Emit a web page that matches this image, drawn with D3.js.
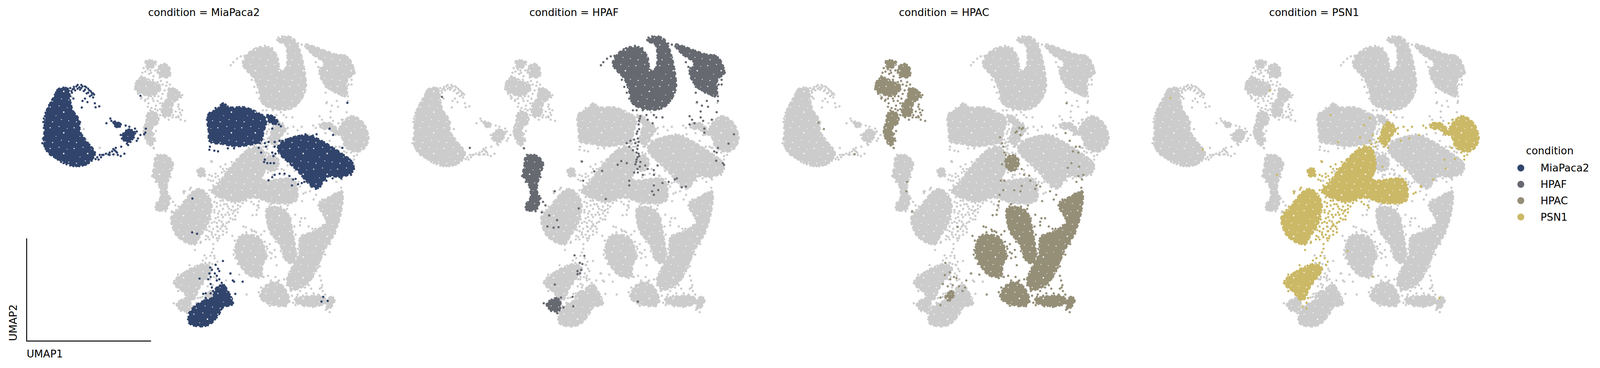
<!DOCTYPE html>
<html>
<head>
<meta charset="utf-8">
<style>
  html, body { margin: 0; background: #fff; overflow: hidden; }
  svg { display: block; width: 100vw; height: 100vh; }
  text { font-family: "DejaVu Sans", sans-serif; font-size: 26.7px; fill: #000; }
</style>
<script src="https://cdn.jsdelivr.net/npm/d3@7"></script>
</head>
<body>
<!-- the window can come out narrower than 4142, so the drawing is fitted to it -->
<svg id="chart" viewBox="0 0 4142 942" preserveAspectRatio="none"></svg>
<script>
// Cells are flat x,y lists. Where cells overlap too much to pick out one by one,
// the region they cover is kept as an outline ("areas") instead.
var conditions = ['MiaPaca2', 'HPAF', 'HPAC', 'PSN1']
var colors = ['#31446b', '#666970', '#958f78', '#cbb967']

var miaAreas = [
  [240,378,275,378,285,430,295,470,320,510,325,560,350,600,385,650,380,670,340,703,290,703,240,680,195,650,178,610,180,570,182,520,192,465,215,420],
  [850,482,880,467,905,442,930,457,990,457,1040,477,1080,510,1070,560,1060,600,1030,613,960,623,900,613,852,603,847,560,842,510],
  [1085,492,1105,495,1128,522,1110,528,1090,515],
  [1130,622,1170,592,1240,577,1290,592,1340,622,1390,657,1430,692,1433,728,1390,753,1330,753,1288,802,1250,778,1210,730,1170,690,1132,650],
  [790,1305,830,1280,860,1270,880,1225,905,1215,935,1260,945,1295,905,1310,885,1345,845,1385,790,1388,765,1372,772,1330],
  [503,565,525,552,548,565,540,590,515,605,497,590],
  [462,518,490,530,482,543,462,532]
]
var miaCells = [285,375,295,380,310,368,322,372,335,368,350,372,362,385,372,395,382,403,378,415,365,410,352,398,340,388,325,382,305,385,292,395,285,410,298,420,285,440,335,430,355,435,332,458,388,457,403,453,385,440,345,420,
  300,370,315,362,330,362,345,368,358,378,368,388,378,398,372,405,358,395,345,382,330,375,315,378,300,378,290,388,420,660,440,658,455,645,465,640,478,660,460,658,470,645,445,660,410,670,400,680,
  200,450,190,470,182,495,176,520,178,545,175,590,190,635,205,655,225,672,248,690,270,700,298,708,322,708,348,702,372,685,388,678,215,425,225,405,232,385,
  205,440,195,462,185,480,178,505,182,530,180,570,172,610,182,625,198,645,215,660,235,680,258,695,285,705,310,708,335,705,360,695,300,480,312,505,325,520,322,545,338,600,352,610,370,630,385,650,395,670,405,660,415,660,430,655,445,650,460,635,470,630,475,650,490,665,505,655,492,625,520,618,
  448,505,452,515,462,520,475,525,490,530,480,540,470,530,432,525,510,535,525,540,548,548,555,560,570,575,585,572,590,565,592,548,560,590,555,600,530,605,515,612,495,590,490,575,
  845,490,840,510,850,525,875,460,885,470,905,440,915,445,925,460,1065,490,1085,490,1100,492,1115,500,1125,515,1132,530,1110,525,1095,510,1120,528,1105,548,1140,538,852,625,850,638,870,642,885,645,925,632,950,632,1055,610,1075,610,1090,605,1050,630,1060,650,1080,625,1115,605,1115,625,1105,650,1118,655,1075,680,1085,695,1098,695,1112,695,1072,690,1110,665,
  1135,600,1145,600,1160,595,1130,630,1140,650,1160,665,1185,590,1210,580,1240,572,1270,578,1285,572,1338,548,1352,575,1390,630,1420,680,1437,720,1425,745,1385,760,1350,760,1325,770,1300,795,1282,805,1265,795,1235,775,1225,780,1210,785,1185,790,1200,762,1190,765,1175,750,1155,740,1135,740,1115,745,1105,755,1090,768,
  853,1140,860,1150,850,1165,875,1128,905,1112,885,1145,890,1155,872,1165,880,1175,855,1180,845,1190,880,1195,890,1190,900,1205,910,1215,895,1220,885,1225,860,1225,855,1210,865,1240,855,1250,835,1250,825,1252,835,1270,810,1187,935,1165,945,1195,950,1200,985,1200,955,1252,925,1245,935,1265,945,1290,940,1280,768,1332,770,1375,
  570,408,1410,438,781,846,780,990,800,996,1312,1265,1305,1285,1330,1282]

var hpafAreas = [
  [985,270,1030,210,1095,205,1125,240,1138,300,1160,290,1158,190,1125,175,1160,155,1190,165,1215,210,1240,330,1238,390,1195,455,1145,468,1070,445,1055,400,1035,340],
  [1237,190,1357,230,1412,245,1437,310,1410,340,1405,410,1367,395,1327,370,1297,310,1317,270,1267,230],
  [632,670,667,660,702,695,687,750,677,810,687,850,677,890,637,895,632,875,652,840,642,780,622,750,627,700],
  [717,1295,757,1270,772,1285,767,1325,732,1320]
]
var hpafCells = [937,278,947,265,962,250,977,240,992,238,1022,340,1032,370,1042,395,1052,420,1067,440,1067,470,1082,470,1107,470,1122,490,1152,490,1162,500,1187,500,1147,525,1127,510,
  1040,205,1055,200,1075,195,1090,200,1105,205,1115,225,1130,160,1125,170,1145,155,1175,158,1195,170,1210,185,1225,190,1250,205,1270,210,1290,225,1310,232,1340,235,1375,240,1405,245,1420,255,1432,280,1437,300,1040,350,1030,325,1005,290,995,280,1015,225,1000,260,1240,340,1243,365,1225,420,1205,440,1170,462,1130,462,1100,455,1075,445,1060,430,1300,290,1310,330,1320,350,1340,380,1360,395,1385,405,1395,380,1415,360,1425,325,1440,310,1330,260,1315,275,1380,395,
  1097,495,1092,515,1092,550,1082,570,1087,590,1077,610,1067,640,1087,620,1082,650,1092,665,1082,680,1097,690,1077,700,1072,735,1087,735,1117,705,1127,720,1152,725,1167,705,1152,745,1107,745,1052,625,1042,610,1057,600,1072,595,1095,505,1090,530,1085,560,1090,605,1085,635,1090,655,1085,670,1080,690,1095,710,1085,720,
  1322,370,1322,395,1327,435,1347,450,1342,475,1367,430,1372,455,1412,410,1412,430,1427,340,1427,360,1297,495,1307,510,1317,525,1297,530,1342,500,1352,515,1387,510,1357,548,1357,565,1407,478,1282,265,1292,285,1297,300,1397,235,1435,315,
  1477,572,1455,612,1412,630,1397,645,1407,650,1405,685,1432,695,1437,702,860,688,910,730,942,728,865,770,1005,702,1020,686,1042,695,1052,770,1052,790,1145,815,1152,830,1152,790,1170,810,1187,780,1212,775,1237,765,1245,760,1265,798,1282,795,957,848,847,888,750,815,292,413,405,630,625,632,
  692,845,702,860,712,875,682,855,672,900,697,905,727,918,759,938,720,965,745,970,765,968,637,660,667,662,702,695,692,755,617,750,632,775,687,835,637,895,647,898,
  830,1088,870,1090,852,1120,862,1125,857,1150,842,1155,842,1168,852,1165,750,1212,822,1265,825,1305,1087,1285,705,1292,718,1300,735,1325,775,1268,785,1310,760,1335]

var hpacAreas = [
  [593,258,633,265,623,285,598,290],
  [643,285,668,272,688,290,688,325,658,328,641,305],
  [553,350,578,330,613,345,653,370,638,395,613,410,578,400,553,385],
  [688,375,718,385,731,410,703,440,693,490,663,495,658,450,678,420],
  [603,480,633,480,643,520,618,545,623,610,608,620,583,560,593,520],
  [1078,680,1108,660,1133,690,1108,730,1083,715],
  [955,1060,975,1010,1010,1000,1050,1010,1075,1060,1080,1100,1065,1130,1060,1175,1015,1175,975,1130],
  [1085,890,1130,885,1165,905,1190,1000,1200,1095,1190,1120,1165,1115,1135,1040,1095,985],
  [1295,875,1365,825,1388,815,1385,900,1355,1000,1320,1060,1295,1120,1250,1205,1185,1235,1165,1195,1190,1130,1215,1080,1220,1010,1275,985,1325,945],
  [1063,1240,1098,1205,1138,1210,1173,1270,1163,1300,1093,1295,1058,1270],
  [1198,1275,1313,1265,1323,1290,1273,1305,1203,1290],
  [1328,1280,1343,1265,1358,1275,1343,1310,1328,1315],
  [833,1265,858,1240,868,1255,848,1282]
]
var hpacCells = [583,290,578,310,573,325,613,310,623,325,653,345,678,350,623,365,628,410,643,410,623,430,633,450,573,420,588,430,603,440,723,455,731,480,723,495,733,510,751,515,703,490,713,475,728,465,633,558,623,630,
  600,295,590,305,575,335,560,345,550,365,548,380,560,400,575,415,590,425,600,420,620,420,640,430,650,440,660,440,655,420,660,400,668,385,645,380,640,350,660,360,675,365,690,360,610,300,605,315,620,340,635,360,648,330,640,310,630,300,600,455,615,460,640,470,650,465,670,500,685,510,700,500,715,500,725,500,735,490,740,470,725,445,720,425,730,395,740,405,735,415,650,490,640,500,590,590,585,545,625,570,628,590,630,600,600,500,595,495,610,470,630,465,
  1133,545,1143,550,1123,560,1138,575,1148,545,1118,565,1055,585,1063,610,1068,625,1073,650,1078,660,1063,700,1143,720,1153,745,1173,748,1178,770,1143,792,1203,790,1218,795,1198,805,1138,815,1113,810,1073,770,1058,770,1068,810,1053,830,1051,858,1048,875,1043,895,1041,915,1025,917,1226,857,1258,815,1321,567,1338,600,1378,625,1363,625,1373,650,1351,645,1345,695,1330,715,1376,710,1373,750,1393,745,1388,765,1365,775,1325,440,318,523,340,550,465,657,678,775,675,815,698,900,883,967,
  988,965,998,968,943,1005,953,1025,968,1030,1023,985,1033,985,1073,985,1093,880,1083,890,1098,870,1143,895,1168,875,1198,915,1223,930,1238,930,1218,945,1218,960,1253,965,1268,975,1283,830,1273,850,1298,860,1308,850,1358,825,1348,835,1083,1050,1103,1080,1118,1095,1123,1130,1088,1175,1118,1180,1133,1195,1153,1190,1298,1175,1303,1195,1308,1215,1298,1230,1253,1215,1238,1225,1263,1230,1218,1240,1208,1255,1243,1250,1273,1250,1293,1255,971,1170,938,1165,1001,1255,1338,1330,1323,1320,1263,1150,1283,1155,1298,1135,1218,1040,1233,1060,1263,1075,1243,1090,853,1190,868,1180,878,1185,833,1120,851,1160,831,1172,823,1210,843,1220,863,1215,888,1220,918,1195,913,1225,813,1300,813,1268,903,1240,
  948,1085,955,1100,965,1125,985,1140,1000,1155,1050,1185,1070,1180,1085,1090,1095,1075,1085,1060,1100,1100,1115,1065,1095,1040,1075,1030,1060,1000,1040,990,1020,978,1000,990,985,1000,970,1010,960,1040,950,1065,
  1100,870,1115,880,1140,880,1165,890,1180,930,1195,965,1200,1000,1210,1060,1080,900,1085,930,1090,960,1105,1000,1120,1030,1140,1070,1150,1095,
  1230,1010,1215,1040,1205,1080,1250,1000,1280,975,1310,960,1320,930,1310,900,1292,875,1300,860,1350,850,1390,840,1385,800,1380,880,1375,945,1360,995,1340,1040,1320,1085,1300,1110,1290,1140,1270,1180,1255,1195,1240,1130,1260,1100,1275,1070,
  1190,1290,1175,1285,1205,1265,1230,1260,1260,1265,1290,1262,1320,1255,1310,1240,1305,1225,1200,1300,1235,1305,1270,1308,1300,1298,1055,1262,1050,1245,1060,1225,1080,1215,1100,1195,1130,1198,1165,1215,1180,1240,1185,1260,1095,1303,1130,1305,1160,1305]

var psn1Areas = [
  [695,930,735,880,770,830,805,805,840,825,858,870,845,950,810,1010,790,1040,750,1030,715,1000,700,965],
  [930,720,1005,640,1058,630,1078,710,1065,765,1190,765,1208,840,1195,860,1110,865,1030,842,960,860,885,835,860,810,885,785],
  [1375,555,1425,495,1475,525,1495,600,1460,645,1405,630,1390,590],
  [1095,595,1125,520,1160,550,1145,575,1115,620],
  [705,1205,750,1160,830,1125,860,1145,815,1215,780,1280,740,1240],
  [803,720,826,720,831,750,808,750],
  [1300,530,1340,525,1375,565,1365,575,1335,550,1305,548]
]
var psn1Cells = [860,690,850,745,860,750,875,740,885,750,900,735,920,720,905,770,880,780,865,790,850,810,870,825,890,840,905,855,925,830,870,860,880,880,860,880,850,900,870,905,890,900,905,890,920,870,940,860,955,865,965,875,945,880,930,890,950,900,965,890,925,905,905,925,885,925,870,945,855,935,880,950,900,945,920,950,935,930,955,920,850,965,865,975,885,985,860,1000,845,1010,880,1015,900,965,920,975,985,850,1000,840,1020,860,970,845,775,800,745,815,770,808,
  860,820,875,840,895,855,910,870,925,880,880,865,895,875,870,895,885,910,900,915,915,915,930,915,945,910,955,895,975,880,985,865,1000,855,875,930,860,950,890,940,905,955,915,965,930,945,945,935,955,935,965,905,940,895,880,965,895,975,875,1000,890,1005,905,985,920,990,850,985,850,1020,865,1010,835,1020,905,1000,875,755,890,765,900,785,915,745,925,755,935,790,870,800,880,800,900,810,855,770,845,765,
  1045,875,1050,885,1030,870,1090,860,1140,860,1190,855,1205,830,1231,825,1240,820,1260,795,1195,790,1200,775,1031,620,1054,600,1077,625,1088,590,1065,575,1168,545,1191,540,1208,555,1225,540,1271,535,1254,575,1180,600,1214,590,1128,630,1168,570,1040,625,1060,615,1080,605,1095,600,1110,625,
  1300,535,1322,525,1345,535,1362,555,1374,575,1391,510,1374,525,1425,495,1282,545,1310,530,1335,530,1355,545,1425,650,1437,665,1449,660,1437,680,1460,640,1477,630,1385,630,
  883,1025,866,1040,866,1060,860,1075,854,1090,837,1100,871,1100,883,1115,849,1120,823,1110,791,1065,877,1130,888,1015,883,985,860,990,837,1005,814,1035,906,960,928,945,
  723,1170,769,1130,711,1205,723,1240,769,1275,780,1305,797,1315,797,1290,803,1270,
  245,418,375,638,649,385,677,745,894,490,1031,533,1054,503,925,605,1014,585,1140,478,1105,710,1197,728,1311,765,1262,793,1357,680,1399,677,1362,718,963,1070,1065,1178,1337,1270,857,687,746,823,774,800,
  805,808,825,825,845,840,700,940,695,925,725,880,745,860,770,835,715,895,705,905,718,1000,760,1030,790,1042,815,1030,840,980,850,925,855,870,960,680,985,660,1010,630,940,690,905,720,915,700,895,710]

var allAreas = [miaAreas, hpafAreas, hpacAreas, psn1Areas]
var allCells = [miaCells, hpafCells, hpacCells, psn1Cells]

var svg = d3.select('#chart')
  , panelStep = 958
  , gray = '#cccccc'
  , dotRadius = 2.9

var umap1 = d3.scaleLinear().domain([0, 1568]).range([0, 1000])
  , umap2 = d3.scaleLinear().domain([0, 1568]).range([0, 942])

var pairs = function(flat) {
  var out = []
  for (var i = 0; i < flat.length; i += 2) out.push([flat[i], flat[i + 1]])
  return out
}

var outline = d3.line()
  .x(function(d) { return umap1(d[0]) })
  .y(function(d) { return umap2(d[1]) })
  .curve(d3.curveCatmullRomClosed)

// small white gaps seen between the overlapping cells of a dense region
var speckTile = svg.append('defs').append('pattern')
  .attr('id', 'specks')
  .attr('patternUnits', 'userSpaceOnUse')
  .attr('width', 62).attr('height', 53)
var speckSpots = [[6,9,1.6],[21,31,1.1],[29,6,1.3],[41,22,1.9],[54,44,1.2],[12,47,1.4],[50,11,1],[35,41,1.2]]
speckTile.selectAll('circle').data(speckSpots).enter().append('circle')
  .attr('cx', function(d) { return d[0] })
  .attr('cy', function(d) { return d[1] })
  .attr('r', function(d) { return d[2] })
  .attr('fill', '#fff')

var drawCondition = function(g, index, color) {
  g.selectAll('path.area' + index).data(allAreas[index]).enter().append('path')
    .attr('class', 'area' + index)
    .attr('d', function(d) { return outline(pairs(d)) })
    .attr('fill', color)
    .attr('stroke', color)
    .attr('stroke-width', 6)
    .attr('stroke-linecap', 'round')
    .attr('stroke-dasharray', '0.1 6 0.1 9 0.1 4 0.1 11')
  g.selectAll('path.speck' + index).data(allAreas[index]).enter().append('path')
    .attr('class', 'speck' + index)
    .attr('d', function(d) { return outline(pairs(d)) })
    .attr('fill', 'url(#specks)')
  g.selectAll('circle.cell' + index).data(pairs(allCells[index])).enter().append('circle')
    .attr('class', 'cell' + index)
    .attr('cx', function(d) { return umap1(d[0]) })
    .attr('cy', function(d) { return umap2(d[1]) })
    .attr('r', dotRadius)
    .attr('fill', color)
}

conditions.forEach(function(name, k) {
  var panel = svg.append('g').attr('transform', 'translate(' + k * panelStep + ',0)')
  // everything else first in gray, the panel's own condition on top
  conditions.forEach(function(other, j) {
    if (j !== k) drawCondition(panel, j, gray)
  })
  drawCondition(panel, k, colors[k])
  panel.append('text')
    .attr('x', 528).attr('y', 41)
    .attr('text-anchor', 'middle')
    .text('condition = ' + name)
})

// corner axes of the first panel
svg.append('path')
  .attr('d', 'M69,610V873H391')
  .attr('fill', 'none')
  .attr('stroke', '#000')
  .attr('stroke-width', 2.4)
svg.append('text').attr('x', 69).attr('y', 915).text('UMAP1')
svg.append('text')
  .attr('transform', 'translate(43,873) rotate(-90)')
  .text('UMAP2')

// legend
var legend = svg.append('g')
legend.append('text').attr('x', 4012).attr('y', 395).attr('text-anchor', 'middle').text('condition')
conditions.forEach(function(name, i) {
  var y = 430 + i * 41.8
  legend.append('circle').attr('cx', 3937).attr('cy', y).attr('r', 9).attr('fill', colors[i])
  legend.append('text').attr('x', 3988).attr('y', y + 9.5).text(name)
})
</script>
</body>
</html>
